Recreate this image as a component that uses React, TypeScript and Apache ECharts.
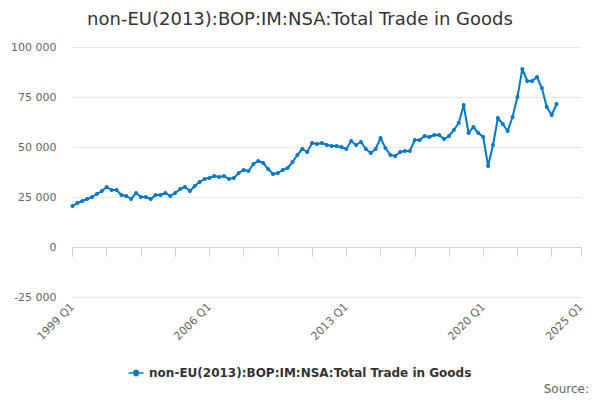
import React, { useEffect, useRef } from "react";
import * as echarts from "echarts";

const years = Array.from({ length: 27 }, (_, k) => 1999 + k);
const categories: string[] = [];
years.forEach((y) => ["Q1", "Q2", "Q3", "Q4"].forEach((q) => categories.push(`${y} ${q}`)));
const axisCats = categories.slice(0, 105);
const labelIdx = [0, 28, 56, 84, 104];

const values = [
  20.5, 22, 23, 24, 25, 26.5, 28, 30, 28.5, 28.5, 26, 25.5, 24, 27, 25, 25,
  24, 26, 26, 27, 25.5, 27, 29, 30, 28, 30.5, 32.5, 34, 34.5, 35.5, 35, 35.5,
  34, 34.5, 37, 38.5, 38, 41.5, 43, 42, 39, 36.5, 37, 38.5, 39.5, 42.5, 46, 49,
  47.5, 52, 51.5, 52, 51, 50.5, 50.5, 50, 49, 53, 51, 52.5, 49, 47, 49, 54.5,
  49.5, 46, 45.5, 47.5, 48, 48, 53.5, 53.5, 55.5, 55, 56, 56, 54, 55.5, 58.5, 62,
  71, 57, 60, 57, 55, 40.5, 51, 64.5, 61.5, 58, 65, 75, 89, 83, 83, 85,
  79.5, 70, 66, 71.5,
].map((v) => v * 1000);

const seriesName = "non-EU(2013):BOP:IM:NSA:Total Trade in Goods";

export default function App() {
  const ref = useRef<HTMLDivElement>(null);
  useEffect(() => {
    const chart = echarts.init(ref.current!, null, { renderer: "svg" });
    chart.setOption({
      animation: false,
      title: {
        text: seriesName, left: "center", top: -4,
        textStyle: { fontFamily: "DejaVu Sans", fontSize: 18, fontWeight: "normal", color: "#333" },
      },
      grid: { left: 64, right: 11, top: 39, bottom: 103 },
      xAxis: {
        type: "category", data: axisCats, boundaryGap: false,
        axisLine: { lineStyle: { color: "#ccd6eb" } },
        axisTick: { interval: (i: number) => i % 7 === 0 || i === 104, lineStyle: { color: "#ccd6eb" }, length: 10 },
        axisLabel: {
          interval: (i: number) => labelIdx.includes(i), rotate: 45,
          fontFamily: "DejaVu Sans", fontSize: 11, color: "#666",
        },
      },
      yAxis: {
        type: "value", min: -25000, max: 100000, interval: 25000,
        splitLine: { lineStyle: { color: "#e6e6e6" } },
        axisLabel: {
          fontFamily: "DejaVu Sans", fontSize: 11, color: "#666", margin: 16,
          formatter: (v: number) => (v < 0 ? "-" : "") + Math.abs(v).toString().replace(/\B(?=(\d{3})+(?!\d))/g, " "),
        },
      },
      legend: {
        top: 354, left: "center", icon: "path://M0,4h5a3,3 0 1,1 6,0h5v1.6h-5a3,3 0 1,1 -6,0h-5z",
        itemWidth: 16, itemHeight: 7,
        textStyle: { fontFamily: "DejaVu Sans", fontSize: 12, fontWeight: "bold", color: "#333" },
      },
      graphic: [{
        type: "text", right: 3, top: 375,
        style: { text: "Source:", fontFamily: "DejaVu Sans", fontSize: 12, fill: "#666" },
      }],
      series: [{
        name: seriesName, type: "line", data: values,
        symbol: "circle", symbolSize: 4, showAllSymbol: true,
        itemStyle: { color: "#0077c8" }, lineStyle: { width: 2, color: "#0077c8" },
      }],
    });
    return () => chart.dispose();
  }, []);
  return <div ref={ref} style={{ width: 584, height: 392 }} />;
}
